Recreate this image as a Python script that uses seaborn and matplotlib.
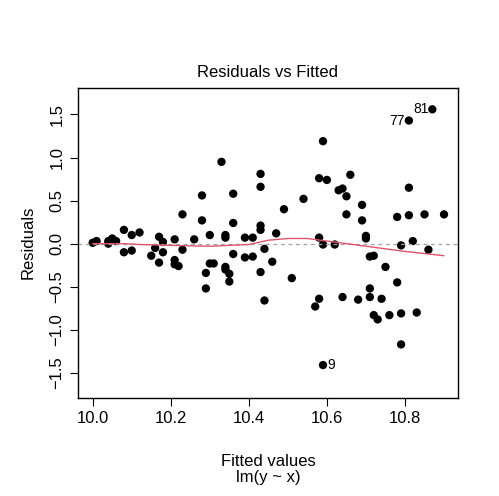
import matplotlib
matplotlib.use('Agg')
import matplotlib.pyplot as plt
import seaborn as sns
import pandas as pd

# fitted values and residuals
fitted = [10.00, 10.01, 10.04, 10.04, 10.05, 10.06, 10.08, 10.08, 10.10, 10.10,
          10.12, 10.15, 10.16, 10.17, 10.18, 10.17, 10.18, 10.21, 10.21, 10.21,
          10.22, 10.23, 10.23, 10.26, 10.28, 10.28, 10.30, 10.29, 10.29, 10.30,
          10.31, 10.33, 10.34, 10.34, 10.34, 10.34, 10.35, 10.35, 10.36, 10.36,
          10.36, 10.39, 10.39, 10.41, 10.41, 10.43, 10.43, 10.43, 10.43, 10.44,
          10.43, 10.44, 10.46, 10.47, 10.49, 10.51, 10.54, 10.58, 10.59, 10.58,
          10.60, 10.59, 10.62, 10.58, 10.57, 10.59, 10.63, 10.64, 10.65, 10.66,
          10.65, 10.64, 10.69, 10.69, 10.70, 10.70, 10.71, 10.72, 10.71, 10.71,
          10.68, 10.75, 10.74, 10.72, 10.73, 10.76, 10.78, 10.78, 10.79, 10.79,
          10.79, 10.81, 10.81, 10.81, 10.87, 10.82, 10.83, 10.85, 10.86, 10.90]
resid = [0.01, 0.03, 0.00, 0.03, 0.06, 0.03, -0.10, 0.16, -0.08, 0.10,
         0.13, -0.14, -0.05, 0.08, 0.02, -0.22, -0.10, 0.05, -0.19, -0.24,
         -0.26, -0.07, 0.34, 0.05, 0.56, 0.27, 0.10, -0.34, -0.52, -0.23,
         -0.23, 0.95, 0.07, 0.10, -0.27, -0.30, -0.35, -0.44, 0.58, 0.24,
         -0.12, 0.07, -0.16, 0.07, -0.15, 0.81, 0.66, 0.21, 0.16, -0.06,
         -0.33, -0.66, -0.21, 0.12, 0.40, -0.40, 0.52, 0.07, -0.01, 0.76,
         0.74, 1.19, -0.01, -0.64, -0.73, -1.41, 0.62, 0.64, 0.55, 0.80,
         0.34, -0.62, 0.45, 0.27, 0.09, 0.06, -0.15, -0.14, -0.52, -0.62,
         -0.65, -0.27, -0.64, -0.83, -0.88, -0.83, -0.45, 0.31, -0.02, -1.17,
         -0.81, 0.33, 0.65, 1.43, 1.56, 0.03, -0.80, 0.34, -0.07, 0.34]

# lowess smoother
smooth_x = [10.00, 10.08, 10.12, 10.20, 10.30, 10.40, 10.45, 10.50, 10.55, 10.60, 10.70, 10.80, 10.90]
smooth_y = [0.00, 0.00, -0.01, -0.02, -0.03, -0.01, 0.04, 0.06, 0.06, 0.03, -0.03, -0.09, -0.14]

# labelled outliers: (obs number, fitted, residual)
outliers = [("9", 10.59, -1.41), ("77", 10.81, 1.43), ("81", 10.87, 1.56)]

df = pd.DataFrame({'Fitted': fitted, 'Residuals': resid})

sns.set_style('white')
plt.rcParams['font.family'] = ['Liberation Sans', 'DejaVu Sans']
plt.rcParams['text.color'] = 'black'
plt.rcParams['axes.labelcolor'] = 'black'
plt.rcParams['xtick.color'] = 'black'
plt.rcParams['ytick.color'] = 'black'

fig = plt.figure(figsize=(4.99, 4.96), dpi=100)
ax = fig.add_axes([0.156, 0.198, 0.762, 0.625])

ax.axhline(0, color='#a0a0a0', linestyle=(0, (3, 3)), linewidth=0.9)
sns.scatterplot(x='Fitted', y='Residuals', data=df, ax=ax, color='black',
                s=36, edgecolor='none', legend=False)
sns.lineplot(x=smooth_x, y=smooth_y, ax=ax, color='#DF536B', linewidth=1)

for lab, fx, fy in outliers:
    if lab == "9":
        ax.text(fx + 0.01, fy, lab, fontsize=10, ha='left', va='center')
    else:
        ax.text(fx - 0.01, fy, lab, fontsize=10, ha='right', va='center')

ax.set_xlim(9.962, 10.936)
ax.set_ylim(-1.79, 1.81)
ax.set_xticks([10.0, 10.2, 10.4, 10.6, 10.8])
ax.set_yticks([-1.5, -1.0, -0.5, 0.0, 0.5, 1.0, 1.5])
ax.tick_params(axis='both', labelsize=12, length=6, direction='out', bottom=True, left=True)
for lbl in ax.get_yticklabels():
    lbl.set_rotation(90)
    lbl.set_va('center')
for sp in ax.spines.values():
    sp.set_color('black')
    sp.set_linewidth(1)

ax.set_title('Residuals vs Fitted', fontsize=12, pad=8)
ax.set_xlabel('Fitted values\nlm(y ~ x)', fontsize=12, labelpad=20, linespacing=1.1)
ax.set_ylabel('Residuals', fontsize=12, labelpad=10)

fig.savefig('out.png', dpi=100)
